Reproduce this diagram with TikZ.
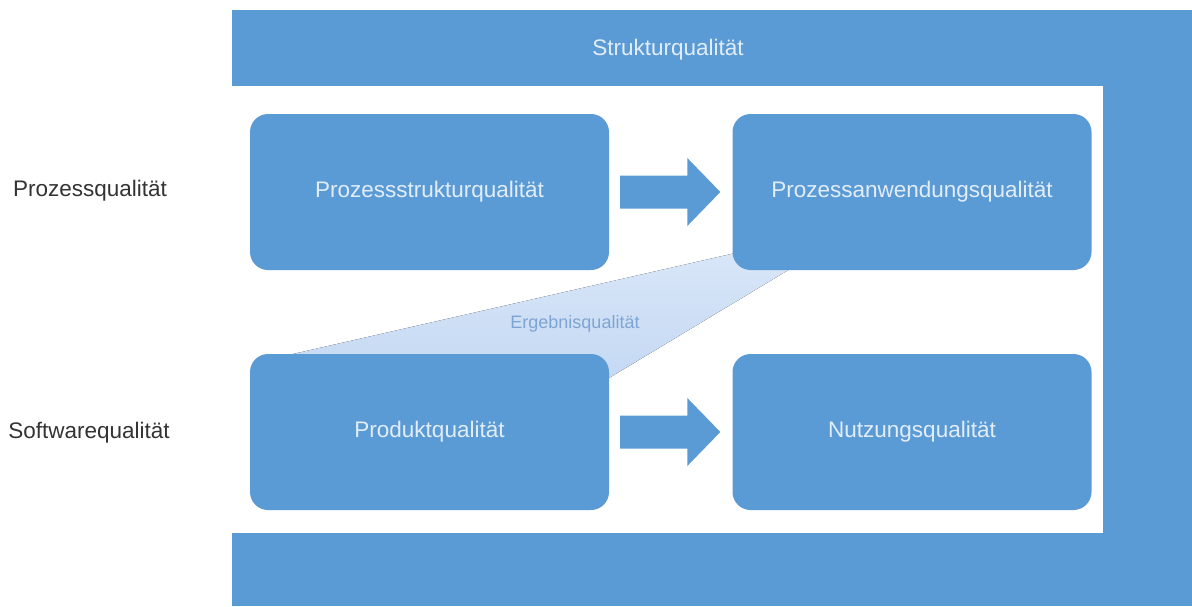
\documentclass[tikz,border=0pt]{standalone}
\usepackage{fontspec}
\setmainfont{Liberation Sans}
\usetikzlibrary{calc}

\definecolor{qblue}{HTML}{5B9BD5}
\definecolor{qtext}{HTML}{E2EDF8}
\definecolor{qlight}{HTML}{C4D9F3}
\definecolor{qlighter}{HTML}{D9E6F8}
\definecolor{qergeb}{HTML}{7EA4D4}
\definecolor{qgray}{HTML}{333333}

\tikzset{
  qbox/.style={fill=qblue,rounded corners=18pt,minimum width=359pt,
    minimum height=156pt,inner sep=0pt,text=qtext,
    font=\fontsize{22.5}{26}\selectfont},
  qside/.style={text=qgray,font=\fontsize{22.5}{26}\selectfont},
}

\begin{document}
\begin{tikzpicture}[x=1pt,y=-1pt]
  \useasboundingbox (0,0) rectangle (1192,606);
  % frame
  \fill[qblue] (232,10) rectangle (1192,606);
  \fill[white] (232,86) rectangle (1103,533);
  \node[text=qtext,font=\fontsize{22.5}{26}\selectfont] (struktur) at (668,50) {Strukturqualität};
  % result band behind the boxes
  \fill[top color=qlighter,bottom color=qlight] (293,354) -- (740,252) -- (790,269) -- (609,378) -- cycle;
  \node[text=qergeb,font=\fontsize{18}{21}\selectfont] (ergebnis) at (575,324) {Ergebnisqualität};
  % boxes
  \node[qbox] (pstruct) at (429.5,192) {Prozessstrukturqualität};
  \node[qbox] (panw) at (912,192) {Prozessanwendungsqualität};
  \node[qbox] (prod) at (429.5,432) {Produktqualität};
  \node[qbox] (nutz) at (912,432) {Nutzungsqualität};
  % block arrows
  \foreach \s/\t in {pstruct/panw,prod/nutz}{
    \fill[qblue] ($(\s.east)+(11,-16.5)$) -- ($(\t.west)+(-45,-16.5)$)
      -- ($(\t.west)+(-45,-34)$) -- ($(\t.west)+(-12,0)$)
      -- ($(\t.west)+(-45,34)$) -- ($(\t.west)+(-45,16.5)$)
      -- ($(\s.east)+(11,16.5)$) -- cycle;
  }
  % row labels
  \node[qside] (prozess) at (90,191) {Prozessqualität};
  \node[qside] (software) at (89,433) {Softwarequalität};
\end{tikzpicture}
\end{document}
